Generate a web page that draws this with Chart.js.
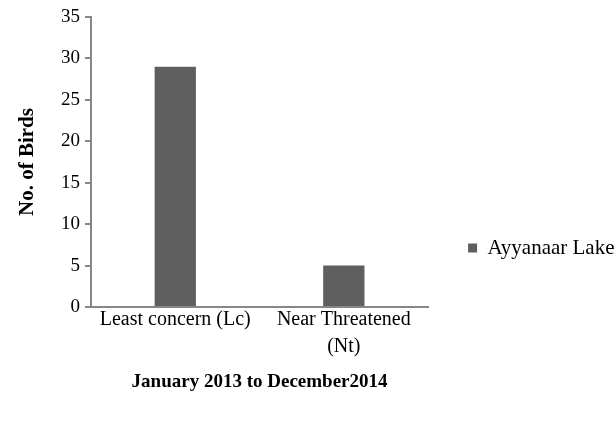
<!DOCTYPE html>
<html>
<head>
<meta charset="utf-8">
<script src="https://cdn.jsdelivr.net/npm/chart.js@4/dist/chart.umd.min.js"></script>
<style>
  html, body { margin: 0; padding: 0; background: #fff; overflow: hidden; }
  #wrap { width: 616px; height: 425px; }
</style>
</head>
<body>
<div id="wrap"><canvas id="c" width="616" height="425"></canvas></div>
<script>
// Conservation status of birds recorded at the lake
const categories = [['Least concern (Lc)'], ['Near Threatened', '(Nt)']];
const seriesName = 'Ayyanaar Lake';
const birdCounts = [29, 5];
const yTickValues = [0, 5, 10, 15, 20, 25, 30, 35];
const yTitle = 'No. of Birds';
const xTitle = 'January 2013 to December2014';

const serif = "'Liberation Serif', 'Times New Roman', serif";
const axisGrey = '#878787';
const barGrey = '#5f5f5f';

// Extra room outside the canvas so the right-hand legend may take its natural width
// and sit lower than the plot's middle.
const PAD_LEFT = -200;
const PAD_RIGHT = -8.5;
const PAD_BOTTOM = -54;

new Chart(document.getElementById('c'), {
  type: 'bar',
  data: {
    labels: categories,
    datasets: [{
      label: seriesName,
      data: birdCounts,
      backgroundColor: barGrey,
      borderWidth: 0,
      barPercentage: 0.245,
      categoryPercentage: 1.0
    }]
  },
  options: {
    responsive: false,
    animation: false,
    layout: { padding: { left: PAD_LEFT, top: 17, right: PAD_RIGHT, bottom: PAD_BOTTOM } },
    plugins: {
      tooltip: { enabled: false },
      legend: {
        position: 'right',
        align: 'center',
        labels: {
          boxWidth: 9,
          boxHeight: 9,
          padding: 40,
          color: '#000',
          font: { family: serif, size: 21 }
        }
      }
    },
    scales: {
      x: {
        grid: { display: false, drawTicks: false },
        border: { display: true, color: axisGrey, width: 2 },
        ticks: {
          color: '#000',
          padding: -1,
          maxRotation: 0,
          autoSkip: false,
          font: { family: serif, size: 20, lineHeight: 1.35 }
        },
        title: {
          display: true,
          text: xTitle,
          color: '#000',
          font: { family: serif, size: 19, weight: 'bold' },
          padding: { top: 0, bottom: 32 - PAD_BOTTOM }
        },
        afterFit: (scale) => { scale.height = 118 - PAD_BOTTOM; }
      },
      y: {
        min: 0,
        max: 35,
        afterBuildTicks: (scale) => { scale.ticks = yTickValues.map(v => ({ value: v })); },
        grid: {
          display: true,
          drawOnChartArea: false,
          drawTicks: true,
          tickLength: 6,
          color: axisGrey,
          lineWidth: 2
        },
        border: { display: true, color: axisGrey, width: 2 },
        ticks: {
          color: '#000',
          padding: 5,
          font: { family: serif, size: 19 }
        },
        title: {
          display: true,
          text: yTitle,
          color: '#000',
          font: { family: serif, size: 21, weight: 'bold' },
          padding: { top: 15 - PAD_LEFT, bottom: 0 }
        },
        afterFit: (scale) => { scale.width = 91 - PAD_LEFT; }
      }
    }
  }
});
</script>
</body>
</html>
